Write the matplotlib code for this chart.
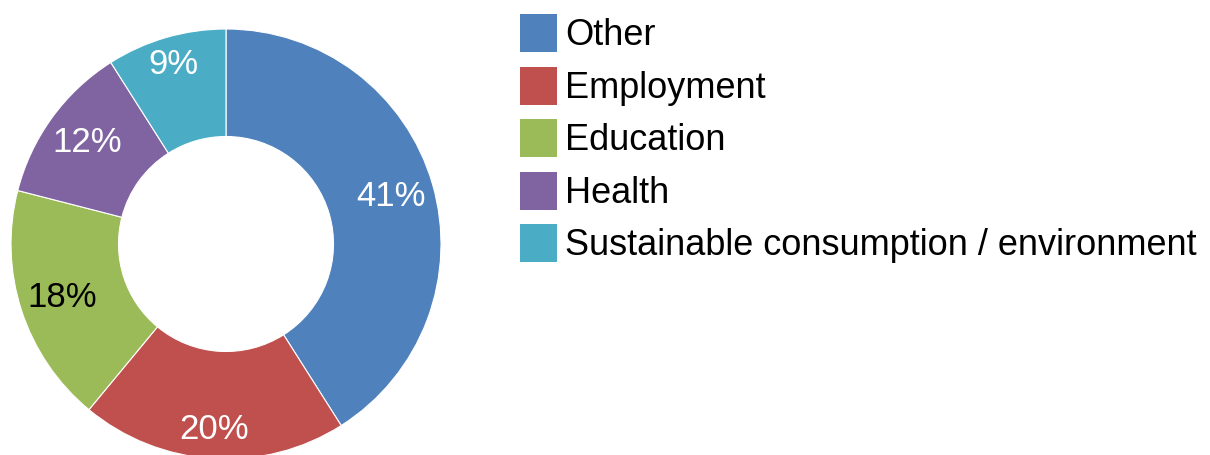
import matplotlib
matplotlib.use("Agg")
import matplotlib.pyplot as plt
import numpy as np

plt.rcParams['font.family'] = ['Liberation Sans', 'DejaVu Sans']

categories = ["Other", "Employment", "Education", "Health",
              "Sustainable consumption / environment"]
values = [41, 20, 18, 12, 9]
colors = ["#4F81BD", "#C0504D", "#9BBB59", "#8064A2", "#4BACC6"]
label_colors = ["white", "white", "black", "white", "white"]
label_radius = [0.80, 0.865, 0.80, 0.80, 0.87]

W, H = 1210, 455
fig = plt.figure(figsize=(W / 100, H / 100), dpi=100)
cx, cy, r = 226, 455 - 244, 215
ax = fig.add_axes([(cx - r) / W, (cy - r) / H, 2 * r / W, 2 * r / H])

wedges, texts, autotexts = ax.pie(
    values, colors=colors, startangle=90, counterclock=False,
    radius=1.0, autopct=lambda p: f"{p:.0f}%", pctdistance=0.82,
    wedgeprops=dict(width=0.5, edgecolor="white", linewidth=0.8),
    textprops=dict(fontsize=25))
for w, t, c, rr in zip(wedges, autotexts, label_colors, label_radius):
    t.set_color(c)
    ang = np.deg2rad((w.theta1 + w.theta2) / 2)
    t.set_position((rr * np.cos(ang), rr * np.sin(ang)))
ax.set_xlim(-1, 1)
ax.set_ylim(-1, 1)
ax.set_aspect("equal")
ax.axis("off")

leg = fig.legend(wedges, categories, loc="upper left",
                 bbox_to_anchor=(520 / W, 1 - 14 / H),
                 frameon=False, fontsize=26,
                 handlelength=1.025, handleheight=1.242,
                 handletextpad=0.22, labelspacing=0.37,
                 borderpad=0, borderaxespad=0)
for h in leg.legend_handles:
    h.set_edgecolor("none")

fig.savefig("out.png", dpi=100)
